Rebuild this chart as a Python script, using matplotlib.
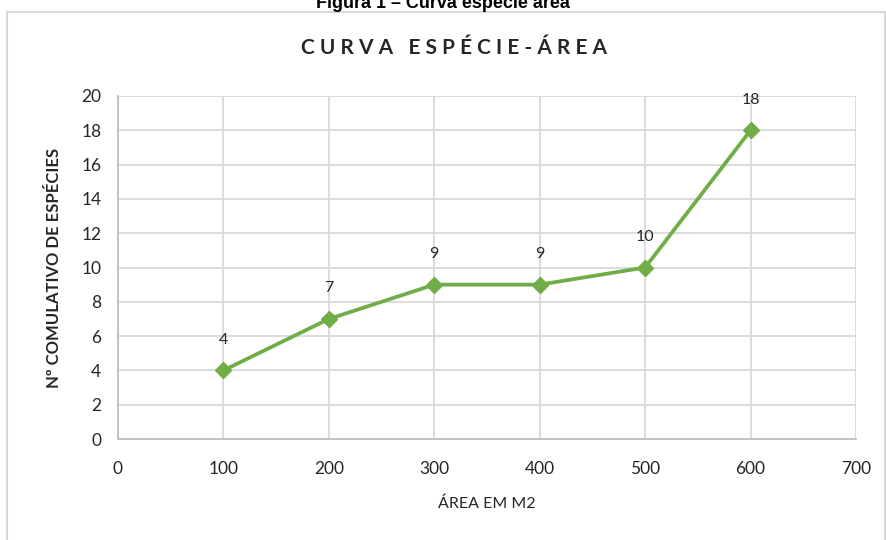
import matplotlib.pyplot as plt
from matplotlib.patches import Rectangle

# data
area = [100, 200, 300, 400, 500, 600]
especies = [4, 7, 9, 9, 10, 18]
x_ticks = [0, 100, 200, 300, 400, 500, 600, 700]
y_ticks = [0, 2, 4, 6, 8, 10, 12, 14, 16, 18, 20]

W, H = 887, 540
fig = plt.figure(figsize=(W / 100, H / 100), dpi=100)
plt.rcParams['font.family'] = ['Lato', 'DejaVu Sans']

# plot area in pixels: x 118..856, y 96..439
ax = fig.add_axes([118 / W, 1 - 439 / H, (856 - 118) / W, (439 - 96) / H])

green = '#70AD47'
ax.plot(area, especies, color=green, lw=2.7, marker='D', ms=8,
        markeredgecolor=green, zorder=3, clip_on=False)
for x, y in zip(area, especies):
    ax.annotate(str(y), (x, y), xytext=(0, 22), textcoords='offset points',
                ha='center', va='center', fontsize=11.5, color='#262626')

ax.set_xlim(0, 700)
ax.set_ylim(0, 20)
ax.set_xticks(x_ticks)
ax.set_yticks(y_ticks)
ax.grid(True, color='#d9d9d9', lw=1.3)
ax.set_axisbelow(True)
for s in ['top', 'right']:
    ax.spines[s].set_visible(False)
for s in ['left', 'bottom']:
    ax.spines[s].set_color('#bfbfbf')
    ax.spines[s].set_linewidth(1.3)
ax.tick_params(length=0, labelsize=12.5, labelcolor='#262626')
ax.tick_params(axis='x', pad=16)
ax.tick_params(axis='y', pad=12)

ax.set_xlabel('ÁREA EM M2', fontsize=11.5, color='#262626', labelpad=14)
ax.set_ylabel('Nº COMULATIVO DE ESPÉCIES', fontsize=12, fontweight='bold',
              color='#262626', labelpad=14)

# chart title and caption (partly cut at the top, as in the source)
fig.text(454 / W, 1 - 48 / H, 'C U R V A   E S P É C I E - Á R E A',
         ha='center', va='center', fontsize=15, fontweight='bold', color='#262626')
fig.text(443 / W, 1 - 4 / H, 'Figura 1 – Curva espécie área', ha='center',
         va='center', fontsize=13, fontweight='bold', family='Liberation Sans')

# chart border
fig.patches.append(Rectangle((7 / W, -0.1), (885 - 7) / W, 1.1 - 12 / H,
                             transform=fig.transFigure, fill=False,
                             edgecolor='#d9d9d9', lw=1.5))

fig.savefig('out.png', dpi=100)
